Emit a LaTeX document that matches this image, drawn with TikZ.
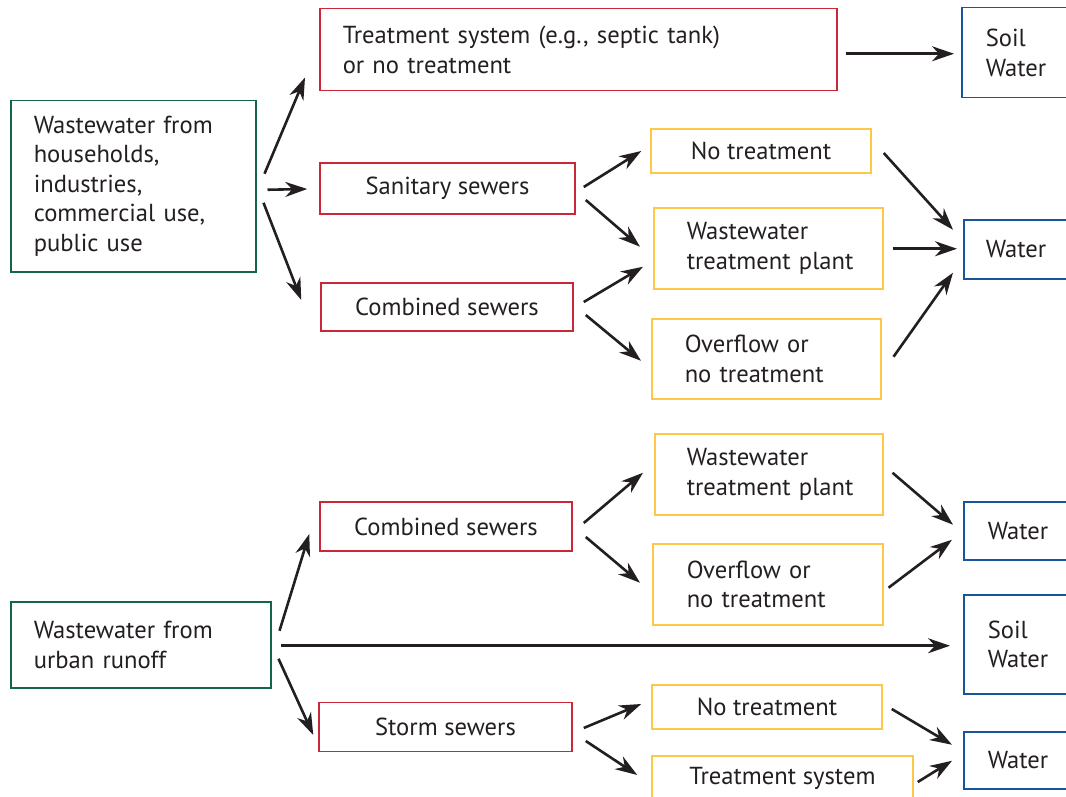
\documentclass[tikz,border=0pt]{standalone}
\usepackage{fontspec}
\setmainfont{PT Sans}
\usetikzlibrary{arrows.meta}

\definecolor{ink}{RGB}{35,31,32}
\definecolor{srcgreen}{RGB}{20,100,80}
\definecolor{sewred}{RGB}{200,40,55}
\definecolor{treatyel}{RGB}{253,200,70}
\definecolor{sinkblue}{RGB}{25,85,155}

\tikzset{
    box/.style={draw, line width=0.75pt, text=ink, inner ysep=0pt,
        font=\fontsize{12.3}{14.75}\selectfont},
    leftbox/.style={box, anchor=north west, align=left},
    source/.style={leftbox, draw=srcgreen},
    sewer/.style={box, draw=sewred},
    treat/.style={box, draw=treatyel},
    sink/.style={leftbox, draw=sinkblue},
    flow/.style={-{Stealth[length=11pt, width=7.5pt, inset=3.5pt]}, line width=1.3pt, ink}
}

\begin{document}
\begin{tikzpicture}[x=0.5pt, y=-0.5pt]
    \useasboundingbox (0,0) rectangle (1066,797);
    \clip (0,0) rectangle (1066,797);

    % Wastewater from households and industries
    \node[source, text width=99.5pt, inner xsep=11.5pt, minimum height=85.5pt] (hh) at (10,100)
        {Wastewater from\\households,\\industries,\\commercial use,\\public use};
    \node[sewer, align=left, anchor=north west, text width=235.5pt, inner xsep=11.5pt, minimum height=41pt] (tank) at (319,8)
        {Treatment system (e.g., septic tank)\\or no treatment};
    \node[sink, text width=32pt, inner xsep=12pt, minimum height=45pt] (soil1) at (961,7) {Soil\\Water};
    \node[sewer, minimum width=127.5pt, minimum height=25.5pt] (sani) at (447.5,188.5) {Sanitary sewers};
    \node[sewer, minimum width=126pt, minimum height=24pt] (comb1) at (447,307) {Combined sewers};
    \node[treat, minimum width=110pt, minimum height=22pt] (none1) at (761,151) {No treatment};
    \node[treat, leftbox, text width=81.5pt, inner xsep=16.5pt, minimum height=40.5pt] (wtp1) at (653,207)
        {Wastewater\\treatment~plant};
    \node[treat, leftbox, text width=81.5pt, inner xsep=16.5pt, minimum height=40pt] (over1) at (651,318)
        {Overflow or\\no treatment};
    \node[sink, text width=33pt, inner xsep=11pt, minimum height=29.5pt] (water1) at (963,219) {Water};

    % Wastewater from urban runoff
    \node[source, text width=107pt, inner xsep=11.5pt, minimum height=43pt] (runoff) at (10,601)
        {Wastewater from\\urban runoff};
    \node[sewer, minimum width=126pt, minimum height=24.5pt] (comb2) at (446,526.5) {Combined sewers};
    \node[sewer, minimum width=126.5pt, minimum height=24.5pt] (storm) at (445.5,727) {Storm sewers};
    \node[treat, leftbox, text width=82pt, inner xsep=16pt, minimum height=40.5pt] (wtp2) at (654,433)
        {Wastewater\\treatment~plant};
    \node[treat, leftbox, text width=81pt, inner xsep=17pt, minimum height=40.5pt] (over2) at (652,543)
        {Overflow or\\no treatment};
    \node[treat, minimum width=115pt, minimum height=22pt] (none2) at (767,707) {No treatment};
    \node[treat, minimum width=130.5pt, minimum height=22pt] (tsys) at (782.5,778) {Treatment system};
    \node[sink, text width=31pt, inner xsep=12pt, minimum height=29pt] (water2) at (963,501) {Water};
    \node[sink, text width=31pt, inner xsep=12pt, minimum height=49.5pt] (soil2) at (963,594) {Soil\\Water};
    \node[sink, text width=31pt, inner xsep=12pt, minimum height=28.5pt] (water3) at (963,731) {Water};

    % Arrows out of the households box
    \draw[flow] ([shift={(8,-12.5)}]hh.east) -- ([shift={(-14,-14)}]tank.south west);
    \draw[flow] ([shift={(11,3.5)}]hh.east) -- ([shift={(-12,0.5)}]sani.west);
    \draw[flow] ([shift={(7,16.5)}]hh.east) -- ([shift={(-19,-7)}]comb1.west);
    \draw[flow] ([shift={(8,4)}]tank.east) -- ([shift={(-7,1)}]soil1.west);

    % Sewers to treatment
    \draw[flow] ([shift={(8,-1.5)}]sani.east) -- ([shift={(-9,0)}]none1.west);
    \draw[flow] ([shift={(10,11.5)}]sani.east) -- ([shift={(-13,-1.5)}]wtp1.west);
    \draw[flow] ([shift={(10,-5)}]comb1.east) -- ([shift={(-10,18.5)}]wtp1.west);
    \draw[flow] ([shift={(12,8)}]comb1.east) -- ([shift={(-10,2)}]over1.west);

    % Treatment to water
    \draw[flow] ([shift={(12,2)}]none1.east) -- ([shift={(-10,-19.5)}]water1.west);
    \draw[flow] ([shift={(9,0.5)}]wtp1.east) -- ([shift={(-6,-0.5)}]water1.west);
    \draw[flow] ([shift={(12,-2)}]over1.east) -- ([shift={(-10,23.5)}]water1.west);

    % Arrows out of the runoff box
    \draw[flow] ([shift={(8,-14)}]runoff.east) -- ([shift={(-10,7.5)}]comb2.west);
    \draw[flow] ([shift={(9,1)}]runoff.east) -- ([shift={(-13,1.5)}]soil2.west);
    \draw[flow] ([shift={(7,14)}]runoff.east) -- ([shift={(-5,8)}]storm.west);

    % Combined and storm sewers to treatment
    \draw[flow] ([shift={(11,-3.5)}]comb2.east) -- ([shift={(-11,-1.5)}]wtp2.west);
    \draw[flow] ([shift={(13,10.5)}]comb2.east) -- ([shift={(-12,-1.5)}]over2.west);
    \draw[flow] ([shift={(11,1)}]storm.east) -- ([shift={(-10,-3)}]none2.west);
    \draw[flow] ([shift={(13,14)}]storm.east) -- ([shift={(-14,-3)}]tsys.west);

    % Treatment to water
    \draw[flow] ([shift={(9,-1.5)}]wtp2.east) -- ([shift={(-10,-6)}]water2.west);
    \draw[flow] ([shift={(5,3.5)}]over2.east) -- ([shift={(-11,9)}]water2.west);
    \draw[flow] ([shift={(9,2)}]none2.east) -- ([shift={(-11,-15.5)}]water3.west);
    \draw[flow] ([shift={(4,4)}]tsys.east) -- ([shift={(-11,0.5)}]water3.west);
\end{tikzpicture}
\end{document}
